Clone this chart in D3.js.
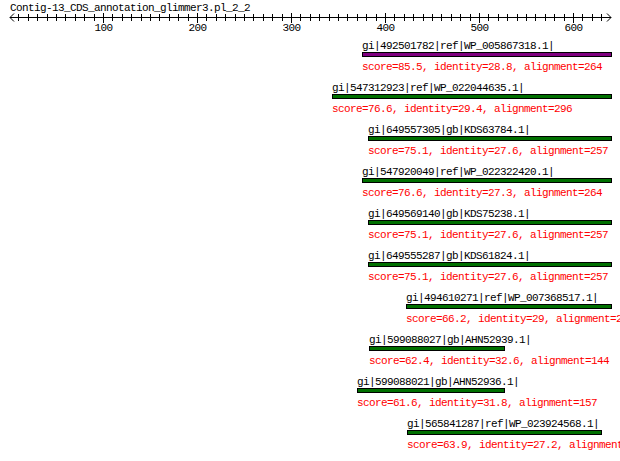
<!DOCTYPE html>
<html>
<head>
<meta charset="utf-8">
<script src="https://cdn.jsdelivr.net/npm/d3@7"></script>
<style>
  html, body { margin: 0; padding: 0; background: #fff; }
  svg { display: block; }
  text { font-family: "Liberation Mono", "DejaVu Sans Mono", monospace; font-size: 11px; letter-spacing: -0.6px; }
</style>
</head>
<body>
<script>
const title = "Contig-13_CDS_annotation_glimmer3.pl_2_2";
const hitNames = [
  "gi|492501782|ref|WP_005867318.1|",
  "gi|547312923|ref|WP_022044635.1|",
  "gi|649557305|gb|KDS63784.1|",
  "gi|547920049|ref|WP_022322420.1|",
  "gi|649569140|gb|KDS75238.1|",
  "gi|649555287|gb|KDS61824.1|",
  "gi|494610271|ref|WP_007368517.1|",
  "gi|599088027|gb|AHN52939.1|",
  "gi|599088021|gb|AHN52936.1|",
  "gi|565841287|ref|WP_023924568.1|"
];
const hitStarts = [376, 344, 382, 376, 382, 382, 422, 383, 370, 423];
const hitEnds   = [640, 640, 640, 640, 640, 640, 640, 527, 527, 630];
const scores     = [85.5, 76.6, 75.1, 76.6, 75.1, 75.1, 66.2, 62.4, 61.6, 63.9];
const identities = [28.8, 29.4, 27.6, 27.3, 27.6, 27.6, 29, 32.6, 31.8, 27.2];
const alignments = [264, 296, 257, 264, 257, 257, 218, 144, 157, 207];
const axisMax = 640;
const majorTicks = [100, 200, 300, 400, 500, 600];
const minorTicks = d3.range(10, 640, 10);

const W = 620, H = 461;
const svg = d3.select("body").append("svg").attr("width", W).attr("height", H)
  .style("background", "#fff");

const x = d3.scaleLinear().domain([0, axisMax]).range([9, 610.6]);
const px = v => Math.round(x(v));

// title
svg.append("text").attr("x", 10).attr("y", 11).attr("fill", "#000").text(title);

// axis
const ax = svg.append("g").attr("stroke", "#000").attr("stroke-width", 1)
  .attr("shape-rendering", "crispEdges");
const ay = 17.5;
ax.append("line").attr("x1", px(0) + 1).attr("x2", px(axisMax)).attr("y1", ay).attr("y2", ay);
ax.selectAll("line.minor").data(minorTicks.filter(t => t % 100 !== 0)).enter().append("line")
  .attr("class", "minor")
  .attr("x1", d => px(d) + 0.5).attr("x2", d => px(d) + 0.5)
  .attr("y1", 14).attr("y2", 21);
ax.selectAll("line.major").data(majorTicks).enter().append("line")
  .attr("class", "major")
  .attr("x1", d => px(d) + 0.5).attr("x2", d => px(d) + 0.5)
  .attr("y1", 13).attr("y2", 23);
// arrows
const aL = px(0) + 1, aR = px(axisMax);
const arrows = svg.append("g").attr("stroke", "#000").attr("fill", "none").attr("stroke-width", 1);
arrows.append("path").attr("d", `M${aL + 4},${ay - 4} L${aL},${ay} L${aL + 4},${ay + 4}`);
arrows.append("path").attr("d", `M${aR - 4},${ay - 4} L${aR},${ay} L${aR - 4},${ay + 4}`);
svg.selectAll("text.tick").data(majorTicks).enter().append("text")
  .attr("class", "tick")
  .attr("x", d => px(d) + 0.5).attr("y", 31).attr("text-anchor", "middle")
  .attr("fill", "#000").text(d => d);

// hits
const rowH = 42;
const rows = svg.selectAll("g.hit").data(hitNames).enter().append("g").attr("class", "hit");
rows.append("text")
  .attr("x", (d, i) => px(hitStarts[i]))
  .attr("y", (d, i) => 49 + i * rowH)
  .attr("fill", "#000").text(d => d);
rows.append("rect")
  .attr("x", (d, i) => px(hitStarts[i]) + 0.5)
  .attr("y", (d, i) => 52.5 + i * rowH)
  .attr("width", (d, i) => px(hitEnds[i]) - px(hitStarts[i]))
  .attr("height", 4)
  .attr("fill", (d, i) => i === 0 ? "#800080" : "#007000")
  .attr("stroke", "#000").attr("stroke-width", 1)
  .attr("shape-rendering", "crispEdges");
rows.append("text")
  .attr("x", (d, i) => px(hitStarts[i]))
  .attr("y", (d, i) => 70 + i * rowH)
  .attr("fill", "#ff0000")
  .text((d, i) => `score=${scores[i]}, identity=${identities[i]}, alignment=${alignments[i]}`);
</script>
</body>
</html>
